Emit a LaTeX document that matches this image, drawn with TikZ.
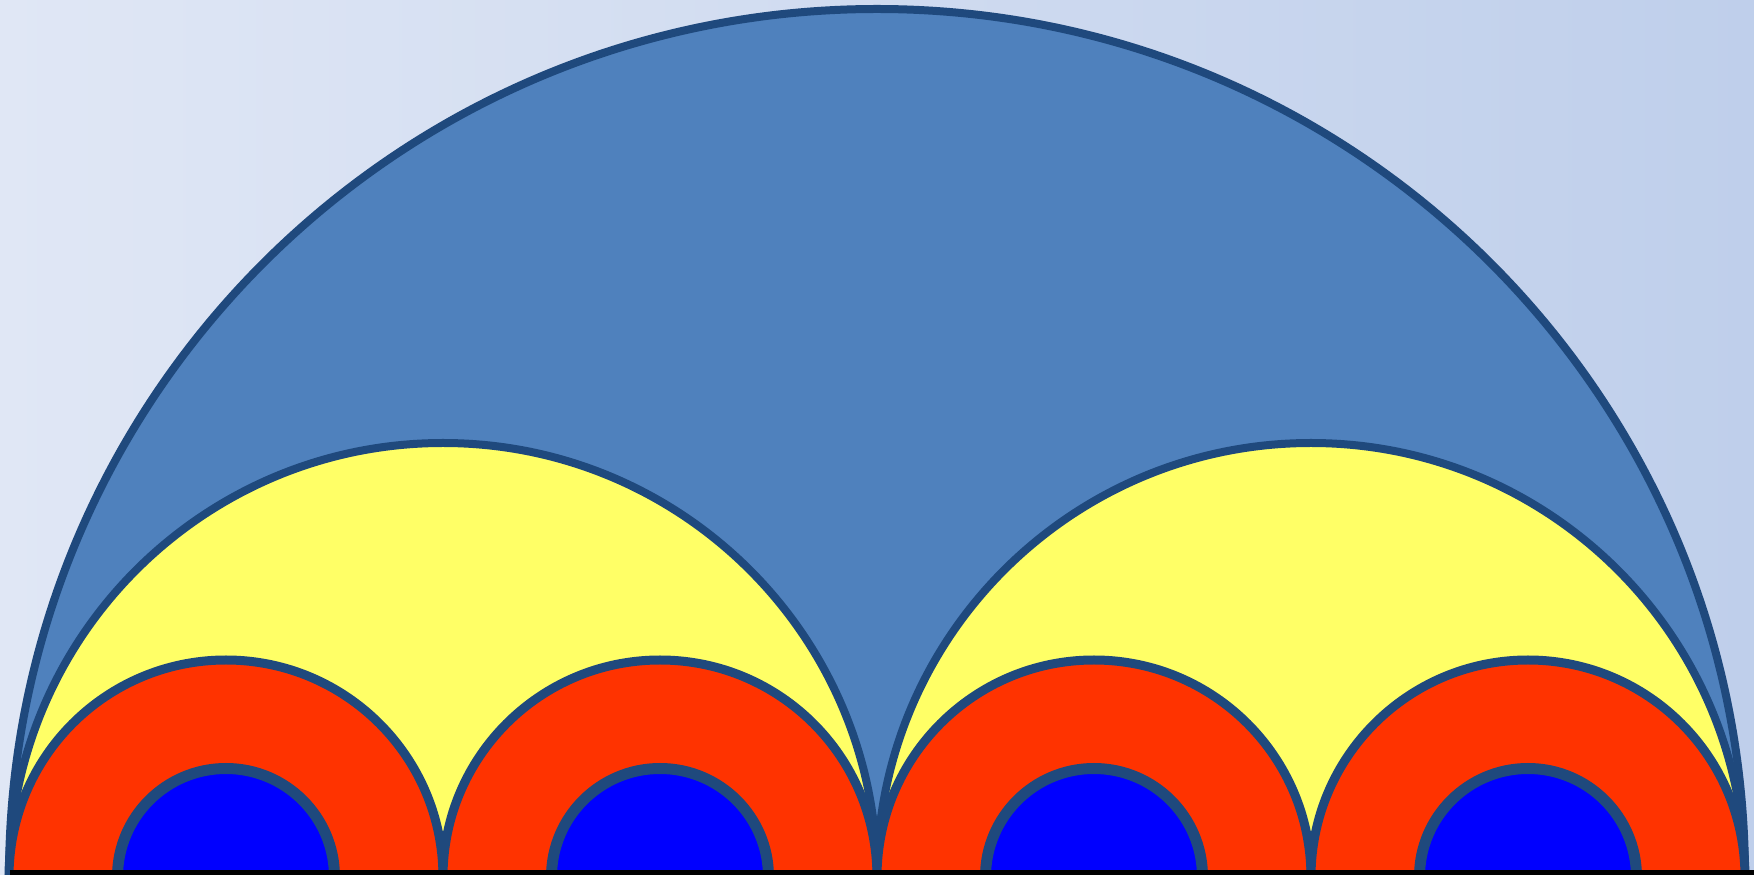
\documentclass[tikz,border=0pt]{standalone}
\usepackage{tikz}
\definecolor{ArcEdge}{HTML}{1F497D}
\definecolor{SkyFill}{HTML}{4F81BD}
\definecolor{LemonFill}{HTML}{FFFF66}
\definecolor{FlameFill}{HTML}{FF3300}
\definecolor{PureBlue}{HTML}{0000FF}
\definecolor{BackLeft}{HTML}{E0E7F5}
\definecolor{BackRight}{HTML}{BFCFEB}

\begin{document}
\begin{tikzpicture}[x=1pt,y=1pt,
      halfdisc/.style={draw=ArcEdge,line width=8pt},
      ground/.style={black,line width=5pt}]
  \shade[left color=BackLeft,right color=BackRight] (-877,2) rectangle (877,877);
  \useasboundingbox (-877,2) rectangle (877,877);
  % big arc
  \filldraw[halfdisc,fill=SkyFill] (-868,0) arc[start angle=180,end angle=0,radius=868];
  % two yellow arcs
  \foreach \cx in {-434,434}
    \filldraw[halfdisc,fill=LemonFill] (\cx-434,0) arc[start angle=180,end angle=0,radius=434];
  % red and blue arcs
  \foreach \cx in {-651,-217,217,651}{
    \filldraw[halfdisc,line width=9pt,fill=FlameFill] (\cx-217,0) arc[start angle=180,end angle=0,radius=217];
    \filldraw[halfdisc,line width=11pt,fill=PureBlue] (\cx-108.5,0) arc[start angle=180,end angle=0,radius=108.5];
  }
  \draw[ground] (-867,4.5) -- (877,4.5);
\end{tikzpicture}
\end{document}
